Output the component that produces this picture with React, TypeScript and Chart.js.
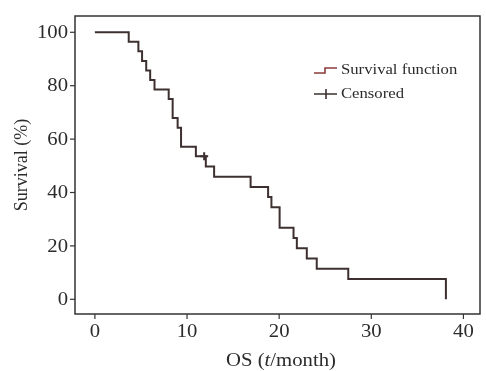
import React, { useEffect, useRef } from 'react';
import { Chart, registerables } from 'chart.js';

Chart.register(...registerables);

// Kaplan-Meier estimate: event times (months) and survival (%) after each event
const eventTimes = [0, 3.67, 4.72, 5.12, 5.57, 6.0, 6.47, 8.01, 8.44, 8.98, 9.35, 10.96, 12.04, 12.94, 16.9, 18.8, 19.16, 20.05, 21.56, 21.92, 23.0, 24.08, 27.5, 38.1];
const survivalPct = [100, 96.43, 92.86, 89.29, 85.71, 82.14, 78.57, 75.0, 67.86, 64.29, 57.14, 53.57, 49.74, 45.92, 42.09, 38.27, 34.44, 26.79, 22.96, 19.13, 15.31, 11.48, 7.65, 0];
const censoredTimes = [11.86];
const censoredPct = [53.57];

const xTickValues = [0, 10, 20, 30, 40];
const yTickValues = [0, 20, 40, 60, 80, 100];
const xTitleParts: [string, boolean][] = [['OS (', false], ['t', true], ['/month)', false]];
const yTitle = 'Survival (%)';
const legendLabels = ['Survival function', 'Censored'];

const FONT = '"Liberation Serif", "Times New Roman", serif';
const SX = 1.15;
const TEXT = '#2b2b2b';
const FRAME = '#333333';
const CURVE = '#3e3030';
const CURVE_RED = '#8a3b3b';

function drawScaledText(ctx: CanvasRenderingContext2D, text: string, x: number, y: number, align: CanvasTextAlign, size: number, italic = false) {
  ctx.save();
  ctx.translate(x, y);
  ctx.scale(SX, 1);
  ctx.font = `${italic ? 'italic ' : ''}${size}px ${FONT}`;
  ctx.textAlign = align;
  ctx.textBaseline = 'middle';
  ctx.fillStyle = TEXT;
  ctx.fillText(text, 0, 0);
  ctx.restore();
}

const decorPlugin = {
  id: 'decor',
  beforeDraw(chart: any) {
    const ctx = chart.ctx as CanvasRenderingContext2D;
    ctx.save();
    ctx.fillStyle = '#ffffff';
    ctx.fillRect(0, 0, chart.width, chart.height);
    ctx.restore();
  },
  afterDraw(chart: any) {
    const ctx = chart.ctx as CanvasRenderingContext2D;
    const { left, right, top, bottom } = chart.chartArea;
    const xs = chart.scales.x;
    const ys = chart.scales.y;
    ctx.save();
    // frame
    ctx.strokeStyle = FRAME;
    ctx.lineWidth = 1.5;
    ctx.strokeRect(left, top, right - left, bottom - top);
    // y ticks
    ctx.lineWidth = 1.2;
    yTickValues.forEach((v) => {
      const py = ys.getPixelForValue(v);
      ctx.beginPath();
      ctx.moveTo(left - 5, py);
      ctx.lineTo(left, py);
      ctx.stroke();
      drawScaledText(ctx, String(v), left - 7, py + 1, 'right', 18);
    });
    // x ticks
    xTickValues.forEach((v) => {
      const px = xs.getPixelForValue(v);
      ctx.beginPath();
      ctx.moveTo(px, bottom);
      ctx.lineTo(px, bottom + 5);
      ctx.stroke();
      drawScaledText(ctx, String(v), px, bottom + 18, 'center', 18);
    });
    // x title with italic t
    const size = 18;
    const widths = xTitleParts.map(([t, it]) => {
      ctx.font = `${it ? 'italic ' : ''}${size}px ${FONT}`;
      return ctx.measureText(t).width * SX;
    });
    const total = widths.reduce((a, b) => a + b, 0);
    let cx = 281 - total / 2;
    xTitleParts.forEach(([t, it], i) => {
      drawScaledText(ctx, t, cx, 361, 'left', size, it);
      cx += widths[i];
    });
    // y title
    ctx.save();
    ctx.translate(22, 165);
    ctx.rotate(-Math.PI / 2);
    ctx.font = `18px ${FONT}`;
    ctx.textAlign = 'center';
    ctx.textBaseline = 'middle';
    ctx.fillStyle = TEXT;
    ctx.fillText(yTitle, 0, 0);
    ctx.restore();
    // legend
    ctx.lineWidth = 1.6;
    ctx.strokeStyle = CURVE_RED;
    ctx.beginPath();
    ctx.moveTo(314, 73);
    ctx.lineTo(325, 73);
    ctx.lineTo(325, 68);
    ctx.lineTo(337, 68);
    ctx.stroke();
    ctx.strokeStyle = CURVE;
    ctx.beginPath();
    ctx.moveTo(314, 94);
    ctx.lineTo(337, 94);
    ctx.moveTo(326, 89);
    ctx.lineTo(326, 99);
    ctx.stroke();
    drawScaledText(ctx, legendLabels[0], 341, 70, 'left', 14.5);
    drawScaledText(ctx, legendLabels[1], 341, 94, 'left', 14.5);
    ctx.restore();
  },
};

export default function App() {
  const ref = useRef<HTMLCanvasElement | null>(null);
  useEffect(() => {
    if (!ref.current) return;
    const chart = new Chart(ref.current, {
      type: 'line',
      data: {
        datasets: [
          {
            label: legendLabels[0],
            data: eventTimes.map((t, i) => ({ x: t, y: survivalPct[i] })),
            stepped: true,
            borderColor: CURVE,
            borderWidth: 2,
            pointRadius: 0,
            fill: false,
          },
          {
            label: legendLabels[1],
            data: censoredTimes.map((t, i) => ({ x: t, y: censoredPct[i] })),
            showLine: false,
            pointStyle: 'cross',
            pointRadius: 4,
            pointBorderWidth: 2,
            pointBorderColor: CURVE,
            pointBackgroundColor: CURVE,
          },
        ],
      },
      options: {
        responsive: false,
        animation: false,
        layout: { padding: { left: 0, top: 16, right: 3, bottom: 0 } },
        plugins: { legend: { display: false }, tooltip: { enabled: false } },
        scales: {
          x: {
            type: 'linear',
            min: -2.16,
            max: 41.8,
            grid: { display: false },
            border: { display: false },
            ticks: { display: false },
            afterFit: (s: any) => { s.height = 57; },
          },
          y: {
            type: 'linear',
            min: -5.5,
            max: 106.1,
            grid: { display: false },
            border: { display: false },
            ticks: { display: false },
            afterFit: (s: any) => { s.width = 75; },
          },
        },
      },
      plugins: [decorPlugin],
    } as any);
    return () => chart.destroy();
  }, []);
  return (
    <div style={{ position: 'absolute', left: 0, top: 0, width: 486, height: 371, background: '#fff' }}>
      <canvas ref={ref} width={486} height={371} />
    </div>
  );
}
